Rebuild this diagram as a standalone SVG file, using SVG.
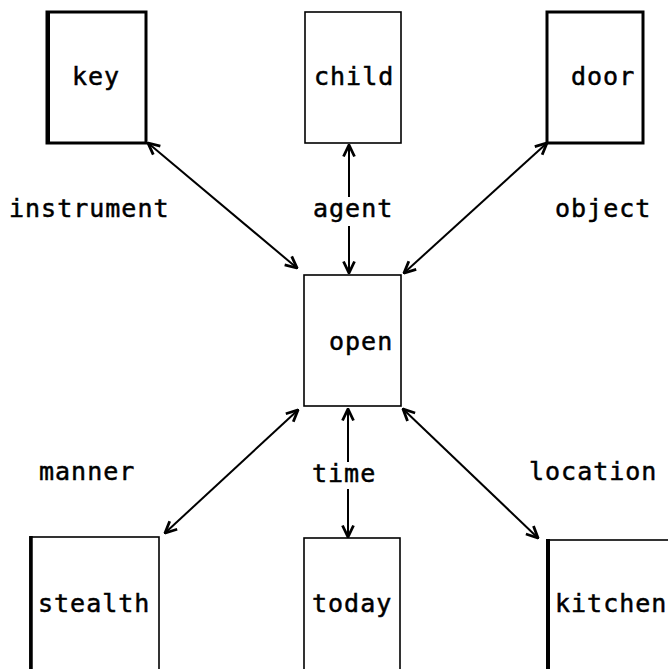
<svg xmlns="http://www.w3.org/2000/svg" width="668" height="669" viewBox="0 0 668 669">
<style>
  .box{fill:none;stroke:#000;}
  .thin{stroke-width:1.6;}
  .thick{stroke-width:3;}
  .edge{stroke:#000;fill:none;}
  text{font-family:"DejaVu Sans Mono","Liberation Mono",monospace;font-size:25px;letter-spacing:1px;fill:#000;stroke:#000;stroke-width:0.5;}
  .conn{fill:none;stroke:#000;stroke-width:2;marker-start:url(#ah);marker-end:url(#ah);}
</style>
<defs>
  <marker id="ah" viewBox="0 0 14 14" refX="13" refY="7" markerWidth="14" markerHeight="14" markerUnits="userSpaceOnUse" orient="auto-start-reverse">
    <path d="M1.5,1.5 L13,7 L1.5,12.5" fill="none" stroke="#000" stroke-width="2.8" stroke-linejoin="miter"/>
  </marker>
</defs>
<rect width="668" height="669" fill="#fff"/>

<g id="connectors">
  <path class="conn" d="M148,143 L297,268"/>
  <path class="conn" d="M349,145 L349,197 M349,226 L349,273"/>
  <path class="conn" d="M547,143 L404,273"/>
  <path class="conn" d="M165,533 L298,410"/>
  <path class="conn" d="M348,409 L348,462 M348,489 L348,537"/>
  <path class="conn" d="M403,409 L538,538"/>
</g>

<g id="node-key">
  <rect class="box thick" x="47" y="12" width="99" height="131"/>
  <line class="edge" x1="48" y1="11" x2="48" y2="144" stroke-width="4"/>
  <text x="72" y="85">key</text>
</g>
<g id="node-child">
  <rect class="box thin" x="305" y="12" width="96" height="131"/>
  <text x="314" y="85">child</text>
</g>
<g id="node-door">
  <rect class="box thick" x="547" y="12" width="96" height="131"/>
  <text x="571" y="85">door</text>
</g>
<g id="node-open">
  <rect class="box thin" x="304" y="275" width="97" height="131"/>
  <text x="329" y="350">open</text>
</g>
<g id="node-stealth">
  <rect class="box thin" x="30" y="537" width="129" height="140"/>
  <line class="edge" x1="31" y1="536" x2="31" y2="669" stroke-width="3.5"/>
  <text x="38" y="612">stealth</text>
</g>
<g id="node-today">
  <rect class="box thin" x="304" y="538" width="96" height="140" stroke-width="2"/>
  <text x="312" y="612">today</text>
</g>
<g id="node-kitchen">
  <rect class="box thin" x="547" y="540" width="130" height="140"/>
  <line class="edge" x1="548" y1="539" x2="548" y2="669" stroke-width="4"/>
  <text x="555" y="612">kitchen</text>
</g>

<g id="labels">
  <text x="9" y="217">instrument</text>
  <text x="313" y="217">agent</text>
  <text x="555" y="217">object</text>
  <text x="39" y="480">manner</text>
  <text x="312" y="482">time</text>
  <text x="529" y="480">location</text>
</g>
</svg>
